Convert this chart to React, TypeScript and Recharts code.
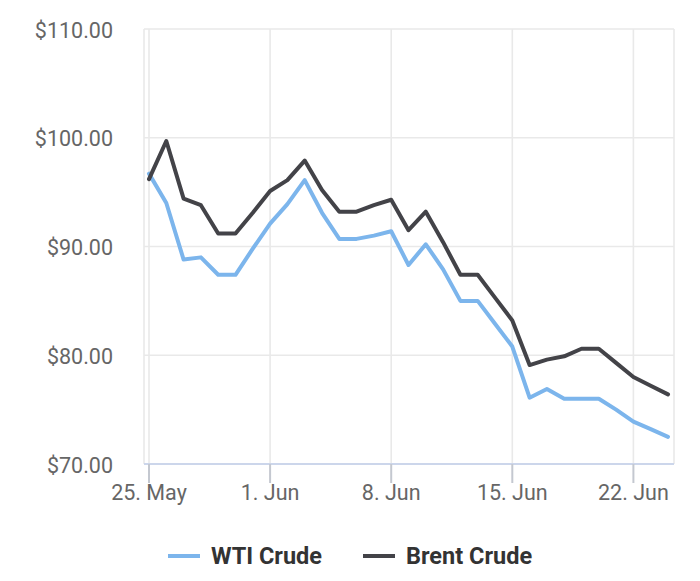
import React from "react";
import { CartesianGrid, Legend, Line, LineChart, XAxis, YAxis } from "recharts";

// daily closing prices, 25 May .. 24 Jun
const dates = [
  "2022-05-25", "2022-05-26", "2022-05-27", "2022-05-28", "2022-05-29", "2022-05-30",
  "2022-05-31", "2022-06-01", "2022-06-02", "2022-06-03", "2022-06-04", "2022-06-05",
  "2022-06-06", "2022-06-07", "2022-06-08", "2022-06-09", "2022-06-10", "2022-06-11",
  "2022-06-12", "2022-06-13", "2022-06-14", "2022-06-15", "2022-06-16", "2022-06-17",
  "2022-06-18", "2022-06-19", "2022-06-20", "2022-06-21", "2022-06-22", "2022-06-23",
  "2022-06-24",
];

const wti = [
  96.7, 94.0, 88.8, 89.0, 87.4, 87.4, 89.8, 92.1, 93.9, 96.1, 93.1, 90.7, 90.7, 91.0,
  91.4, 88.3, 90.2, 87.9, 85.0, 85.0, 82.9, 80.8, 76.1, 76.9, 76.0, 76.0, 76.0, 75.0,
  73.9, 73.2, 72.5,
];

const brent = [
  96.2, 99.7, 94.4, 93.8, 91.2, 91.2, 93.1, 95.1, 96.1, 97.9, 95.2, 93.2, 93.2, 93.8,
  94.3, 91.5, 93.2, 90.4, 87.4, 87.4, 85.3, 83.2, 79.1, 79.6, 79.9, 80.6, 80.6, 79.3,
  78.0, 77.2, 76.4,
];

const seriesNames = ["WTI Crude", "Brent Crude"];
const xTickDates = ["2022-05-25", "2022-06-01", "2022-06-08", "2022-06-15", "2022-06-22"];
const xTickLabels = ["25. May", "1. Jun", "8. Jun", "15. Jun", "22. Jun"];
const yTicks = [70, 80, 90, 100, 110];

const DAY = 24 * 3600 * 1000;
const start = Date.parse(dates[0]);
const dayOf = (d: string) => Math.round((Date.parse(d) - start) / DAY);

const chartData = dates.map((d, i) => ({ day: dayOf(d), wti: wti[i], brent: brent[i] }));
const xTicks = xTickDates.map(dayOf);

const font = "Roboto, 'Noto Sans', sans-serif";

function LegendContent({ payload }: any) {
  const items = [...(payload || [])].sort(
    (a: any, b: any) => seriesNames.indexOf(a.value) - seriesNames.indexOf(b.value)
  );
  return (
    <div style={{ display: "flex", justifyContent: "center", alignItems: "center", fontFamily: font }}>
      {items.map((p: any, i: number) => (
        <div key={p.value} style={{ display: "flex", alignItems: "center", marginLeft: i ? 41 : 0 }}>
          <span style={{ display: "inline-block", width: 32, height: 4, background: p.color, marginRight: 11 }} />
          <span style={{ fontSize: 23.5, fontWeight: 700, color: "#333333" }}>{p.value}</span>
        </div>
      ))}
    </div>
  );
}

export default function App() {
  return (
    <div style={{ position: "absolute", left: 0, top: 0, fontFamily: font }}>
      <LineChart width={700} height={581} data={chartData} margin={{ top: 29, right: 26, left: 0, bottom: 57 }}>
        <CartesianGrid stroke="#e9e9e9" strokeWidth={1.6} />
        <XAxis
          dataKey="day"
          type="number"
          domain={[0, 30]}
          ticks={xTicks}
          padding={{ left: 5, right: 6 }}
          height={60}
          tickFormatter={(v: number) => xTickLabels[xTicks.indexOf(v)] ?? ""}
          axisLine={{ stroke: "#ccd6eb", strokeWidth: 2 }}
          tickLine={{ stroke: "#c4c8d0", strokeWidth: 2 }}
          tickSize={19}
          tickMargin={2}
          tick={{ fill: "#666666", fontSize: 21.5, fontFamily: font }}
        />
        <YAxis
          width={144}
          domain={[70, 110]}
          ticks={yTicks}
          axisLine={false}
          tickLine={false}
          tickSize={0}
          tickMargin={31}
          tickFormatter={(v: number) => `$${v.toFixed(2)}`}
          tick={{ fill: "#666666", fontSize: 21.5, fontFamily: font, dy: 1 }}
        />
        <Legend
          layout="horizontal"
          verticalAlign="middle"
          align="center"
          wrapperStyle={{ top: 542, left: 0, width: 700 }}
          content={<LegendContent />}
        />
        <Line
          name="WTI Crude"
          dataKey="wti"
          type="linear"
          stroke="#7cb5ec"
          strokeWidth={4}
          strokeLinejoin="round"
          strokeLinecap="round"
          dot={false}
          activeDot={false}
          isAnimationActive={false}
        />
        <Line
          name="Brent Crude"
          dataKey="brent"
          type="linear"
          stroke="#434348"
          strokeWidth={4}
          strokeLinejoin="round"
          strokeLinecap="round"
          dot={false}
          activeDot={false}
          isAnimationActive={false}
        />
      </LineChart>
    </div>
  );
}
